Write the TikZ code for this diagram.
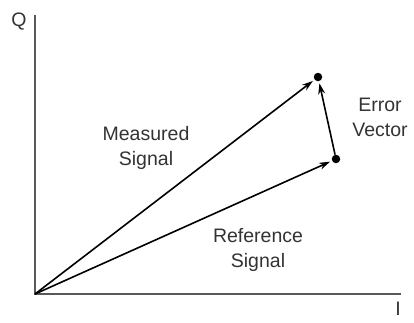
\documentclass[tikz,border=0pt]{standalone}
\usepackage{fontspec}
\setmainfont{Liberation Sans}
\usetikzlibrary{arrows.meta}
\begin{document}
\begin{tikzpicture}[x=1pt,y=-1pt,
  axisline/.style={line width=2.6pt,draw=black!65},
  vec/.style={line width=1.6pt,-{Stealth[length=11pt,width=7pt]},shorten >=2pt},
  dotnode/.style={circle,fill=black,inner sep=0pt,minimum size=8.5pt},
  lbl/.style={font=\fontsize{19.5}{25}\selectfont,text=black!80,align=center,inner sep=1pt}]
\useasboundingbox (0,0) rectangle (414,322);
\coordinate (O) at (35,294);
\coordinate (Qtop) at (35,15);
\coordinate (Iend) at (401,294);
\draw[axisline] (Qtop) -- (O) -- (Iend);
\node[lbl] (Q) at (19,22) {Q};
\node[lbl,anchor=north,inner sep=0pt] (I) at (398,302) {I};
\node[dotnode] (M) at (318,77) {};
\node[dotnode] (R) at (336,159) {};
\draw[vec] (O) -- (M);
\draw[vec] (O) -- (R);
\draw[vec] (R) -- (M);
\node[lbl] (ml) at (146,148) {Measured\\Signal};
\node[lbl] (rl) at (258,250) {Reference\\Signal};
\node[lbl] (el) at (380,117) {Error\\Vector};
\end{tikzpicture}
\end{document}
